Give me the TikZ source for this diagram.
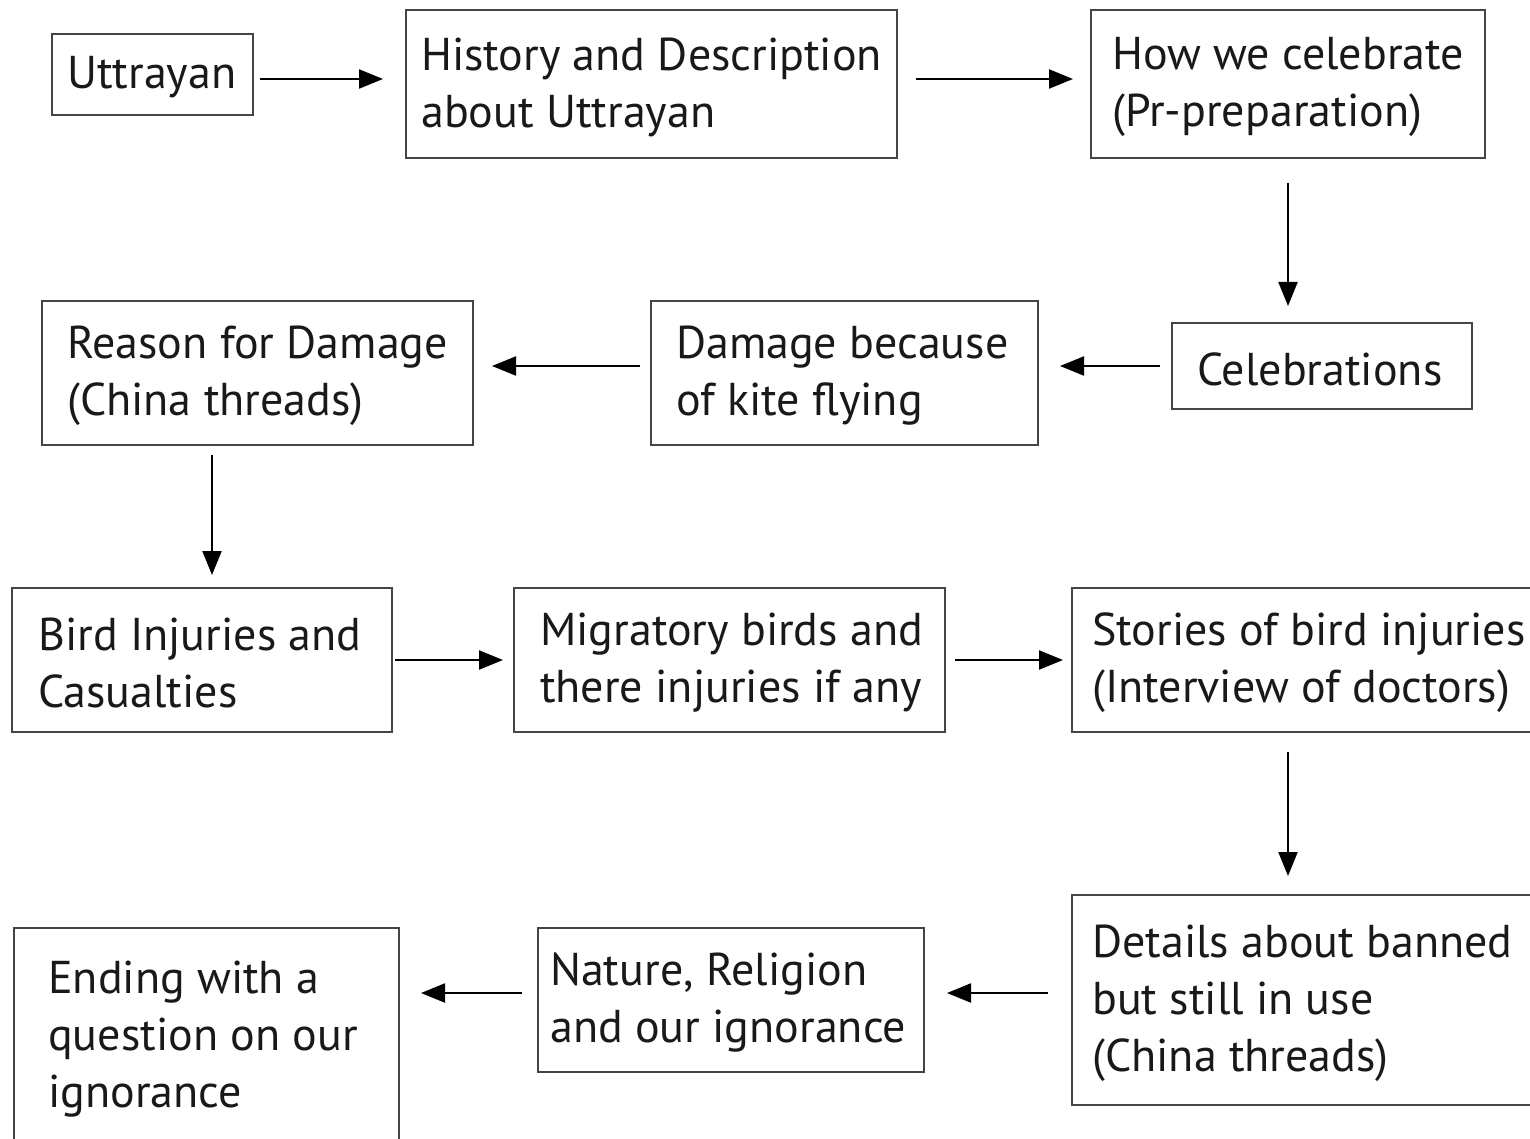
\documentclass[tikz,border=0pt]{standalone}
\usepackage{fontspec}
\setmainfont{PT Sans}
\usetikzlibrary{arrows.meta}
\definecolor{boxc}{HTML}{454545}
\tikzset{
  box/.style={draw=boxc, line width=2pt, inner sep=0pt, outer sep=0pt},
  lbl/.style={anchor=west, align=left, inner sep=0pt, font=\fontsize{46}{57}\selectfont, text=black!90},
  arr/.style={-{Triangle[length=24pt,width=19pt]}, line width=2.2pt, draw=black}
}
\newcommand\mybox[7]{%
  \node[box, minimum width={(#4-#2)*1pt}, minimum height={(#5-#3)*1pt}] (#1) at ({(#2+#4)/2},{(#3+#5)/2}) {};
  \node[lbl] (#1t) at ([xshift=#6pt,yshift=-3pt]#1.west) {#7};
}
\begin{document}
\begin{tikzpicture}[x=1pt,y=-1pt]
\clip (0,0) rectangle (1530,1139);
\fill[white] (0,0) rectangle (1530,1139);
\mybox{b1}{52}{34}{253}{115}{15}{Uttrayan}
\mybox{b2}{406}{10}{897}{158}{15}{History and Description\\about Uttrayan}
\mybox{b3}{1091}{10}{1485}{158}{21}{How we celebrate\\(Pr-preparation)}
\mybox{b4}{1172}{323}{1472}{409}{25}{Celebrations}
\mybox{b5}{651}{301}{1038}{445}{25}{Damage because\\of kite flying}
\mybox{b6}{42}{301}{473}{445}{25}{Reason for Damage\\(China threads)}
\mybox{b7}{12}{588}{392}{732}{26}{Bird Injuries and\\Casualties}
\mybox{b8}{514}{588}{945}{732}{26}{Migratory birds and\\there injuries if any}
\mybox{b9}{1072}{588}{1545}{732}{20}{Stories of bird injuries\\(Interview of doctors)}
\mybox{b10}{1072}{895}{1545}{1105}{20}{Details about banned\\but still in use\\(China threads)}
\mybox{b11}{538}{928}{924}{1072}{12}{Nature, Religion\\and our ignorance}
\mybox{b12}{14}{928}{399}{1145}{34}{Ending with a\\question on our\\ignorance}
\draw[arr, shorten <=7pt, shorten >=23pt] ([yshift=-4.5pt]b1.east) -- ([yshift=-4.5pt]b1.east -| b2.west);
\draw[arr, shorten <=19pt, shorten >=18pt] ([yshift=5pt]b2.east) -- ([yshift=5pt]b2.east -| b3.west);
\draw[arr, shorten <=25pt, shorten >=17pt] (b3.south) -- (b3.south |- b4.north);
\draw[arr, shorten <=12pt, shorten >=22pt] (b4.west) -- (b4.west -| b5.east);
\draw[arr, shorten <=11pt, shorten >=19pt] ([yshift=7pt]b5.west) -- ([yshift=7pt]b5.west -| b6.east);
\draw[arr, shorten <=10pt, shorten >=13pt] ([xshift=170pt]b6.south west) -- ([xshift=170pt]b6.south west |- b7.north);
\draw[arr, shorten <=3pt, shorten >=11pt] (b7.east) -- (b7.east -| b8.west);
\draw[arr, shorten <=10pt, shorten >=9pt] (b8.east) -- (b8.east -| b9.west);
\draw[arr, shorten <=20pt, shorten >=19pt] ([xshift=216pt]b9.south west) -- ([xshift=216pt]b9.south west |- b10.north);
\draw[arr, shorten <=24pt, shorten >=23pt] ([yshift=7pt]b10.west) -- ([yshift=7pt]b10.west -| b11.east);
\draw[arr, shorten <=16pt, shorten >=22pt] ([yshift=7pt]b11.west) -- ([yshift=7pt]b11.west -| b12.east);
\end{tikzpicture}
\end{document}
